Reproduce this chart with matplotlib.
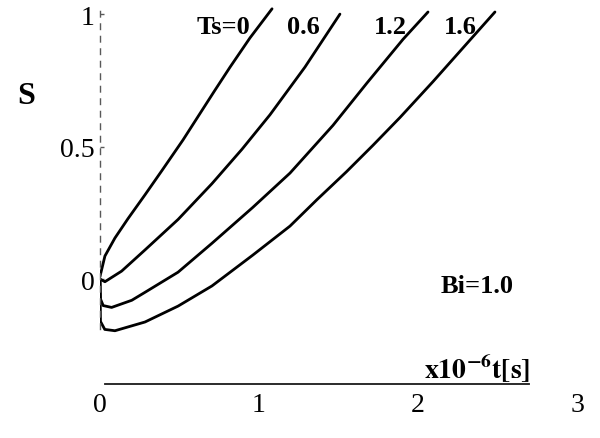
import matplotlib
matplotlib.use("Agg")
import matplotlib.pyplot as plt

plt.rcParams['font.family'] = ['Liberation Serif', 'DejaVu Serif']
plt.rcParams['mathtext.fontset'] = 'stix'

# Data (t in 1e-6 s, S dimensionless)
t_ts0 = [0.0, 0.031, 0.094, 0.176, 0.283, 0.39, 0.522, 0.629, 0.72, 0.818, 0.943, 1.082]
s_ts0 = [0.01, 0.087, 0.155, 0.228, 0.318, 0.41, 0.525, 0.625, 0.71, 0.80, 0.91, 1.02]

t_ts06 = [0.0, 0.031, 0.136, 0.283, 0.491, 0.704, 0.893, 1.069, 1.289, 1.509]
s_ts06 = [0.0, -0.01, 0.03, 0.11, 0.225, 0.36, 0.49, 0.62, 0.80, 1.0]

t_ts12 = [0.0, 0.003, 0.02, 0.073, 0.2, 0.283, 0.491, 0.704, 0.96, 1.195, 1.465, 1.679, 1.906, 2.063]
s_ts12 = [0.0, -0.075, -0.1, -0.107, -0.08, -0.05, 0.026, 0.135, 0.27, 0.40, 0.58, 0.74, 0.905, 1.008]

t_ts16 = [0.0, 0.003, 0.03, 0.094, 0.283, 0.491, 0.704, 0.96, 1.195, 1.365, 1.55, 1.717, 1.887, 2.094, 2.346, 2.484]
s_ts16 = [0.0, -0.16, -0.19, -0.195, -0.162, -0.102, -0.026, 0.09, 0.2, 0.30, 0.405, 0.505, 0.61, 0.745, 0.915, 1.008]

curve_labels = ['Ts=0', '0.6', '1.2', '1.6']
x_ticks = [0, 1, 2, 3]
y_ticks = [0, 0.5, 1]
y_tick_labels = ['0', '0.5', '1']

fig = plt.figure(figsize=(6.0, 4.39), dpi=100)
ax = fig.add_axes([100/600, 54/439, 477/600, 385/439])

for t, s in [(t_ts0, s_ts0), (t_ts06, s_ts06), (t_ts12, s_ts12), (t_ts16, s_ts16)]:
    ax.plot(t, s, color='black', lw=2.0, solid_joinstyle='round', solid_capstyle='round')

ax.set_xlim(0, 3)
ax.set_ylim(-0.396, 1.057)

for side in ['top', 'right']:
    ax.spines[side].set_visible(False)
ax.spines['left'].set_bounds(-0.19, 1.03)
ax.spines['left'].set_linestyle((0, (4, 5)))
ax.spines['left'].set_color('0.35')
ax.spines['left'].set_linewidth(1.0)
ax.spines['bottom'].set_bounds(0.03, 2.7)
ax.spines['bottom'].set_color('0.1')
ax.spines['bottom'].set_linewidth(1.3)

ax.set_xticks(x_ticks)
ax.set_xticklabels([str(v) for v in x_ticks])
ax.set_yticks(y_ticks)
ax.set_yticklabels(y_tick_labels)
ax.tick_params(axis='x', length=0, pad=6, labelsize=20)
ax.tick_params(axis='y', direction='in', length=3, width=1, color='0.35', pad=4, labelsize=20)

# curve labels
label_pos = [(0.943, 0.955), (1.384, 0.955), (1.931, 0.955), (2.371, 0.955)]
for txt, (x, y) in zip(curve_labels, label_pos):
    ax.text(x, y, txt, ha='right', va='center', fontsize=19, fontweight='bold')

ax.text(2.371, -0.026, 'Bi=1.0', ha='center', va='center', fontsize=19, fontweight='bold')
ax.text(2.704, -0.372, r'$\mathbf{x10^{-6}t[s]}$', ha='right', va='baseline', fontsize=20)

fig.text(26/600, 1 - 97/439, 'S', ha='center', va='center', fontsize=23, fontweight='bold')

fig.savefig('out.png', dpi=100, facecolor='white')
